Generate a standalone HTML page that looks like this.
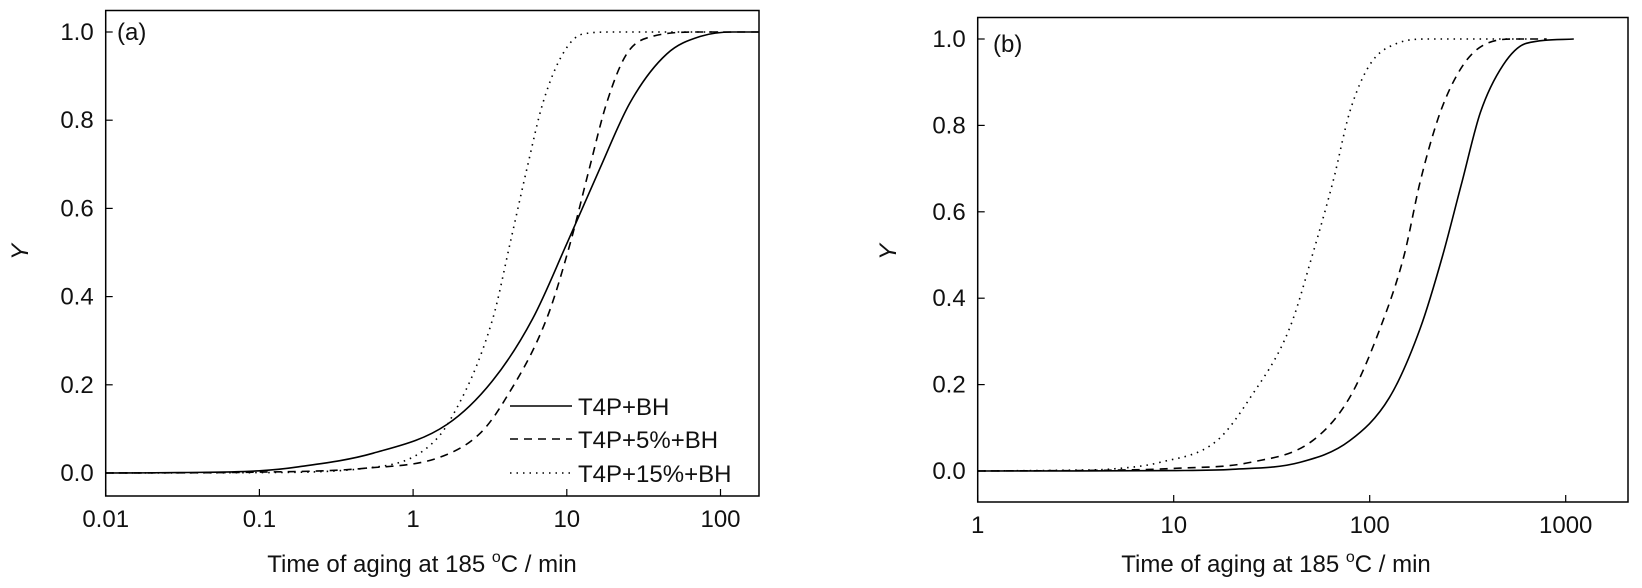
<!DOCTYPE html>
<html><head><meta charset="utf-8"><style>
html,body{margin:0;padding:0;background:#fff;}
svg{display:block;font-family:"Liberation Sans",Arial,sans-serif;}
text{fill:#111;font-size:24px;}
</style></head><body>
<svg id="chart" width="1642" height="588" viewBox="0 0 1642 588" xmlns="http://www.w3.org/2000/svg"></svg>
<script>
// Panel (a) data
const aSolidT = [0.01,0.03,0.1,0.18,0.55,1.66,3.3,6.0,10,16.4,25.8,44.6,74,120,178];
const aSolidY = [0,0.001,0.005,0.014,0.045,0.11,0.21,0.35,0.52,0.69,0.84,0.95,0.99,1,1];
const aDashT = [0.01,0.1,0.5,1.5,2.73,3.86,7.4,10.5,14,18.2,24.5,36,74,178];
const aDashY = [0,0.002,0.011,0.036,0.09,0.16,0.35,0.52,0.69,0.84,0.95,0.99,1,1];
const aDotT = [0.01,0.1,0.5,1.16,1.74,3.3,4.27,5.5,7.0,9.4,12.6,20,100];
const aDotY = [0,0.001,0.011,0.05,0.12,0.35,0.52,0.69,0.84,0.95,0.995,1,1];
// Panel (b) data
const bSolidT = [1,10,20,44,79,126,181,236,296,367,480,630,1100];
const bSolidY = [0,0.001,0.004,0.02,0.07,0.17,0.33,0.5,0.67,0.83,0.94,0.99,1];
const bDashT = [1,5,10,24.6,51,79,113,150,181,229,300,397,560,800];
const bDashY = [0,0.002,0.006,0.02,0.07,0.17,0.33,0.5,0.67,0.83,0.94,0.99,1,1];
const bDotT = [1,3,5,8.5,16.6,24.6,39,51,65,79,100,138,200,650];
const bDotY = [0,0.002,0.005,0.02,0.07,0.17,0.33,0.5,0.67,0.83,0.94,0.99,1,1];
const aXTicks = [0.01,0.1,1,10,100];
const aXLabels = ["0.01","0.1","1","10","100"];
const bXTicks = [1,10,100,1000];
const bXLabels = ["1","10","100","1000"];
const yTicks = [0,0.2,0.4,0.6,0.8,1.0];
const yLabels = ["0.0","0.2","0.4","0.6","0.8","1.0"];
const seriesNames = ["T4P+BH","T4P+5%+BH","T4P+15%+BH"];

const NS="http://www.w3.org/2000/svg";
const svg=document.getElementById('chart');
function mk(tag,attrs,parent){const e=document.createElementNS(NS,tag);for(const k in attrs)e.setAttribute(k,attrs[k]);(parent||svg).appendChild(e);return e;}
const dashes=["", "8,6", "1.5,5"];

// monotone cubic (Fritsch-Carlson) path through pixel points
function monoPath(xs,ys){
  const n=xs.length;const d=[],m=new Array(n);
  for(let i=0;i<n-1;i++)d.push((ys[i+1]-ys[i])/(xs[i+1]-xs[i]));
  m[0]=d[0];m[n-1]=d[n-2];
  for(let i=1;i<n-1;i++){m[i]=(d[i-1]*d[i]<=0)?0:(d[i-1]+d[i])/2;}
  for(let i=0;i<n-1;i++){
    if(d[i]===0){m[i]=0;m[i+1]=0;continue;}
    const a=m[i]/d[i],b=m[i+1]/d[i],s=a*a+b*b;
    if(s>9){const t=3/Math.sqrt(s);m[i]=t*a*d[i];m[i+1]=t*b*d[i];}
  }
  let p='M'+xs[0].toFixed(1)+','+ys[0].toFixed(1);
  for(let i=0;i<n-1;i++){
    const h=(xs[i+1]-xs[i])/3;
    p+='C'+(xs[i]+h).toFixed(1)+','+(ys[i]+m[i]*h).toFixed(1)+' '+(xs[i+1]-h).toFixed(1)+','+(ys[i+1]-m[i+1]*h).toFixed(1)+' '+xs[i+1].toFixed(1)+','+ys[i+1].toFixed(1);
  }
  return p;
}

function panel(p){
  const g=mk('g',{});
  
  
  const X=t=>p.x0+(Math.log10(t)-Math.log10(p.t0))*p.dec;
  const Y=v=>p.y0-v*(p.y0-p.y1);
  const frame=mk('rect',{x:p.L,y:p.T,width:p.R-p.L,height:p.B-p.T,fill:'none',stroke:'#000','stroke-width':1.5},g);
  
  
  p.xt.forEach((t,i)=>{
    const tk=mk('line',{x1:X(t),x2:X(t),y1:p.B,y2:p.B-7,stroke:'#000','stroke-width':1.2},g);
    
    
    const tx=mk('text',{x:X(t),y:p.xlb,'text-anchor':'middle'},g);tx.textContent=p.xl[i];
    
    
  });
  yTicks.forEach((v,i)=>{
    const tk=mk('line',{x1:p.L,x2:p.L+7,y1:Y(v),y2:Y(v),stroke:'#000','stroke-width':1.2},g);
    
    
    const tx=mk('text',{x:p.L-12,y:Y(v)+8,'text-anchor':'end'},g);tx.textContent=yLabels[i];
    
    
  });
  p.series.forEach((s,i)=>{
    const d=monoPath(s[0].map(X),s[1].map(Y));
    const a={d:d,fill:'none',stroke:'#000','stroke-width':1.6};
    if(dashes[i])a['stroke-dasharray']=dashes[i];
    const path=mk('path',a,g);
    
    
  });
  const pl=mk('text',{x:p.lx,y:p.ly},g);pl.textContent=p.label;
  
  
  const xt=mk('text',{x:p.xtx,y:572,'text-anchor':'middle'},g);
  
  
  xt.innerHTML='Time of aging at 185 <tspan dy="-10" font-size="16">o</tspan><tspan dy="10">C / min</tspan>';
  const yt=mk('text',{x:0,y:0,transform:`translate(${p.ytx},252) rotate(-90)`,'text-anchor':'middle','font-style':'italic'},g);
  yt.textContent='Y';
  
  
  return g;
}

panel({name:'panel-a',L:105.7,R:759,T:10.5,B:496,x0:105.7,t0:0.01,dec:153.7,y0:473,y1:32,
  xt:aXTicks,xl:aXLabels,xlb:527,lx:117,ly:40,label:'(a)',xtx:422,ytx:28,
  series:[[aSolidT,aSolidY],[aDashT,aDashY],[aDotT,aDotY]]});
panel({name:'panel-b',L:977.7,R:1628,T:17.5,B:502,x0:977.7,t0:1,dec:196,y0:471,y1:39,
  xt:bXTicks,xl:bXLabels,xlb:533,lx:993,ly:52,label:'(b)',xtx:1276,ytx:896,
  series:[[bSolidT,bSolidY],[bDashT,bDashY],[bDotT,bDotY]]});

// legend (panel a)
const lg=mk('g',{});


const lb=[415,448,482];
seriesNames.forEach((n,i)=>{
  const a={x1:510,x2:572,y1:lb[i]-9,y2:lb[i]-9,stroke:'#000','stroke-width':1.6};
  if(dashes[i])a['stroke-dasharray']=dashes[i];
  const ln=mk('line',a,lg);
  
  
  const t=mk('text',{x:578,y:lb[i]},lg);t.textContent=n;
  
  
});
</script>
</body></html>
